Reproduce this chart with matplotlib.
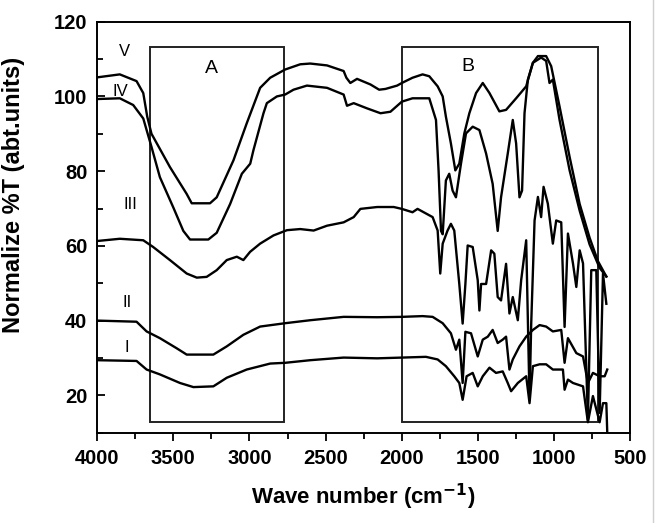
import matplotlib
matplotlib.use('Agg')
import matplotlib.pyplot as plt
from matplotlib.patches import Rectangle
from matplotlib.lines import Line2D
from matplotlib.ticker import MultipleLocator

plt.rcParams['font.family'] = ['Liberation Sans', 'DejaVu Sans']

# ---------------- data ----------------
wn_V = [4000, 3851, 3741, 3697, 3671, 3643, 3632, 3522, 3412, 3379, 3259, 3215, 3105,
        3018, 2930, 2864, 2766, 2667, 2601, 2491, 2382, 2364, 2338, 2294, 2206, 2149,
        2108, 2031, 2000, 1930, 1864, 1820, 1765, 1732, 1711, 1678, 1649, 1623, 1590,
        1557, 1513, 1469, 1425, 1360, 1316, 1250, 1184, 1140, 1107, 1053, 1020, 965,
        899, 833, 768, 713, 658]
t_V = [105.1, 105.9, 104.1, 100.9, 94.6, 90.0, 89.2, 81.1, 73.9, 71.4, 71.4, 73.0, 82.9,
       92.8, 102.3, 105.0, 107.2, 108.6, 108.8, 108.3, 106.8, 105.0, 103.6, 104.7, 103.2, 101.8,
       102.0, 102.9, 103.6, 105.0, 105.9, 105.4, 102.7, 100.0, 94.6, 87.4, 80.2, 82.0, 90.1,
       95.5, 100.9, 103.6, 100.9, 96.0, 96.4, 99.5, 102.7, 109.0, 110.8, 110.8, 108.1, 97.3,
       83.8, 71.2, 62.2, 55.9, 51.8]

wn_IV = [4000, 3851, 3763, 3697, 3643, 3588, 3500, 3434, 3390, 3270, 3215, 3127, 3050,
         2995, 2974, 2908, 2886, 2820, 2766, 2711, 2623, 2491, 2382, 2360, 2316, 2228,
         2140, 2075, 2000, 1930, 1820, 1776, 1759, 1743, 1732, 1711, 1689, 1667, 1645,
         1612, 1579, 1535, 1491, 1447, 1404, 1371, 1349, 1305, 1272, 1250, 1228, 1211,
         1195, 1173, 1140, 1086, 1053, 1031, 1009, 965, 899, 833, 768, 702, 658]
t_IV = [99.3, 99.5, 97.7, 94.1, 86.5, 78.4, 70.3, 64.0, 61.7, 61.7, 63.5, 71.2, 79.3,
        82.0, 85.6, 95.5, 98.2, 100.0, 100.5, 101.8, 102.9, 102.3, 100.5, 97.5, 98.2, 96.8,
        95.5, 95.9, 98.6, 99.5, 99.5, 93.7, 80.2, 64.0, 63.1, 77.5, 79.3, 74.8, 73.0,
        82.0, 90.1, 91.9, 91.0, 84.7, 76.6, 64.0, 73.0, 84.7, 93.7, 87.4, 73.0, 74.8,
        95.5, 104.5, 109.0, 110.4, 109.5, 103.6, 104.5, 93.7, 80.2, 69.4, 60.4, 54.1, 51.8]

wn_III = [4000, 3851, 3697, 3632, 3522, 3412, 3346, 3281, 3215, 3149, 3083, 3040, 2996,
          2930, 2842, 2754, 2667, 2579, 2491, 2382, 2316, 2272, 2162, 2053, 2000, 1930,
          1897, 1798, 1765, 1748, 1732, 1700, 1678, 1656, 1623, 1601, 1583, 1568, 1535,
          1502, 1491, 1480, 1447, 1414, 1393, 1371, 1349, 1316, 1294, 1272, 1239, 1217,
          1184, 1162, 1151, 1129, 1107, 1086, 1070, 1042, 1009, 987, 954, 932, 910, 877,
          855, 833, 811, 779, 757, 724, 702, 680, 658]
t_III = [61.3, 61.9, 61.5, 59.7, 56.2, 52.6, 51.5, 51.7, 53.5, 56.2, 57.1, 56.2, 58.4,
         60.6, 62.8, 64.2, 64.5, 64.1, 65.4, 66.3, 67.7, 69.9, 70.4, 70.4, 69.9, 69.0,
         69.9, 67.7, 64.1, 52.6, 60.6, 64.1, 65.9, 64.1, 49.8, 39.2, 49.8, 60.1, 59.7,
         50.8, 42.7, 49.8, 49.8, 58.8, 57.9, 46.3, 45.4, 55.2, 41.9, 46.3, 40.1, 50.8,
         61.5, 18.8, 39.2, 66.8, 73.1, 67.7, 75.8, 71.3, 60.6, 66.8, 66.3, 38.3, 63.3, 55.3,
         49.0, 58.8, 55.3, 13.5, 53.5, 53.5, 15.3, 52.6, 44.5]

wn_II = [4000, 3741, 3675, 3588, 3478, 3412, 3237, 3149, 3040, 2930, 2766, 2601, 2382,
         2162, 2000, 1864, 1798, 1732, 1678, 1645, 1623, 1601, 1583, 1546, 1502, 1469,
         1436, 1404, 1371, 1338, 1316, 1294, 1272, 1228, 1184, 1140, 1096, 1053, 1009,
         954, 932, 910, 855, 811, 779, 746, 702, 669, 652]
t_II = [40.0, 39.7, 37.1, 35.3, 32.6, 30.9, 30.9, 33.1, 36.2, 38.4, 39.3, 40.1, 41.0,
        40.9, 41.0, 41.2, 41.0, 39.3, 36.6, 32.2, 34.9, 23.3, 37.0, 36.6, 30.4, 34.9,
        35.7, 37.5, 34.0, 34.9, 35.7, 26.9, 29.6, 33.1, 35.7, 37.5, 38.8, 38.4, 37.1,
        37.5, 28.7, 35.3, 31.3, 30.4, 23.3, 26.0, 25.1, 25.1, 26.9]

wn_I = [4000, 3741, 3675, 3588, 3456, 3368, 3237, 3149, 3018, 2864, 2766, 2601, 2382,
        2162, 2000, 1842, 1765, 1711, 1656, 1623, 1601, 1575, 1535, 1502, 1469, 1425,
        1382, 1338, 1305, 1283, 1239, 1184, 1162, 1140, 1096, 1053, 1009, 943, 932, 910,
        877, 811, 779, 746, 702, 680, 658, 652]
t_I = [29.4, 29.2, 26.9, 25.6, 23.3, 22.2, 22.4, 24.7, 26.9, 28.5, 28.7, 29.4, 30.1,
       29.9, 30.1, 30.3, 29.6, 27.8, 25.1, 23.3, 18.8, 25.1, 26.0, 22.4, 25.1, 27.4,
       26.0, 26.4, 23.3, 21.1, 23.3, 25.1, 17.9, 27.8, 28.3, 28.3, 26.9, 26.9, 21.5, 24.2,
       23.3, 22.4, 12.8, 19.8, 12.8, 17.9, 17.9, 10.0]

curves = [(wn_I, t_I), (wn_II, t_II), (wn_III, t_III), (wn_IV, t_IV), (wn_V, t_V)]

# curve labels (wavenumber, value)
curve_labels = ['I', 'II', 'III', 'IV', 'V']
label_wn = [3808, 3800, 3781, 3850, 3818]
label_t = [32.8, 44.8, 71.0, 101.3, 112.0]

# framed regions A and B
regions = ['A', 'B']
region_x = [(3655, 2771), (2000, 714)]
region_y = (12.8, 113.3)
region_text_wn = [3251, 1566]
region_text_t = [107.6, 108.0]

# ---------------- figure ----------------
fig = plt.figure(figsize=(6.56, 5.23), dpi=100)
ax = fig.add_axes([0.148, 0.1727, 0.813, 0.7858])

for wn, t in curves:
    ax.plot(wn, t, color='black', lw=1.7)

for lab, x, y in zip(curve_labels, label_wn, label_t):
    ax.text(x, y, lab, fontsize=12, ha='center', va='center')

for name, (x0, x1), tx, ty in zip(regions, region_x, region_text_wn, region_text_t):
    ax.add_patch(Rectangle((x1, region_y[0]), x0 - x1, region_y[1] - region_y[0],
                           fill=False, edgecolor='#222222', lw=1.4))
    ax.text(tx, ty, name, fontsize=14, ha='center', va='center')

ax.set_xlim(4000, 500)
ax.set_ylim(10, 120)
ax.xaxis.set_major_locator(MultipleLocator(500))
ax.xaxis.set_minor_locator(MultipleLocator(250))
ax.yaxis.set_major_locator(MultipleLocator(20))
ax.yaxis.set_minor_locator(MultipleLocator(10))
ax.set_yticks([20, 40, 60, 80, 100, 120])

ax.tick_params(axis='x', which='major', direction='out', length=6, width=1.3, pad=6)
ax.tick_params(axis='x', which='minor', direction='out', length=4, width=1.3)
ax.tick_params(axis='y', which='major', direction='in', length=6, width=1.3, pad=7)
ax.tick_params(axis='y', which='minor', direction='in', length=4, width=1.3)
for lbl in ax.get_xticklabels() + ax.get_yticklabels():
    lbl.set_fontsize(14.5)
    lbl.set_fontweight('bold')
for s in ax.spines.values():
    s.set_linewidth(1.4)

ax.set_xlabel('Wave number (cm$^{\\mathbf{-1}}$)', fontsize=16, fontweight='bold', va='center')
ax.xaxis.set_label_coords(0.5, -0.157)
ax.set_ylabel('Normalize %T (abt.units)', fontsize=17, fontweight='bold', va='center')
ax.yaxis.set_label_coords(-0.156, 0.578)

fig.add_artist(Line2D([0.9955, 0.9955], [0, 1], color='#d0d0d0', lw=1))

fig.savefig('out.png', dpi=100)
